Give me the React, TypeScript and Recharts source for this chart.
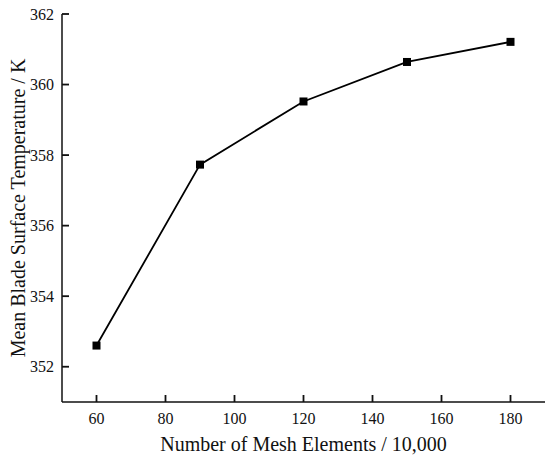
import { Line, LineChart, XAxis, YAxis } from "recharts";

// Mesh independence check: mean blade surface temperature vs element count.
const meshElements = [60, 90, 120, 150, 180];
const meanTemperature = [352.6, 357.73, 359.52, 360.64, 361.21];
const xTicks = [60, 80, 100, 120, 140, 160, 180];
const yTicks = [352, 354, 356, 358, 360, 362];

const data = meshElements.map((m, i) => ({ mesh: m, temp: meanTemperature[i] }));

const FONT = '"Liberation Serif", "Times New Roman", serif';
const INK = "#111";
const TICK_LEN = 7;
const X_MARGIN = 11;
const Y_MARGIN = 8;

type TickProps = { x?: number | string; y?: number | string; payload?: { value: number } };

// ticks in the reference point inwards, so draw them with the label
function renderXTick(props: TickProps) {
  const x = Number(props.x);
  const y = Number(props.y);
  const axisY = y - X_MARGIN;
  return (
    <g key={`x-${props.payload?.value}`}>
      <rect x={x - 0.9} y={axisY - TICK_LEN} width={1.8} height={TICK_LEN} fill={INK} />
      <text x={x} y={y} dy="0.71em" textAnchor="middle" fill={INK} fontSize={16} fontFamily={FONT}>
        {props.payload?.value}
      </text>
    </g>
  );
}

function renderYTick(props: TickProps) {
  const x = Number(props.x);
  const y = Number(props.y);
  const axisX = x + Y_MARGIN;
  return (
    <g key={`y-${props.payload?.value}`}>
      <rect x={axisX} y={y - 0.9} width={TICK_LEN} height={1.8} fill={INK} />
      <text x={x} y={y} dy="0.355em" textAnchor="end" fill={INK} fontSize={16} fontFamily={FONT}>
        {props.payload?.value}
      </text>
    </g>
  );
}

function SquareDot(props: { cx?: number; cy?: number; index?: number }) {
  const { cx, cy, index } = props;
  if (cx == null || cy == null) return null;
  const s = 8;
  return <rect key={index} x={cx - s / 2} y={cy - s / 2} width={s} height={s} fill="#000" />;
}

export default function App() {
  return (
    <div style={{ width: 550, height: 458, background: "#fff" }}>
      <style>{`body{margin:0}`}</style>
      <LineChart
        width={550}
        height={458}
        data={data}
        margin={{ top: 14, right: 5, left: 0, bottom: 0 }}
        style={{ fontFamily: FONT }}
      >
        <XAxis
          dataKey="mesh"
          type="number"
          domain={[50, 190]}
          ticks={xTicks}
          height={56}
          tickSize={0}
          tickMargin={X_MARGIN}
          axisLine={{ stroke: INK, strokeWidth: 1.5 }}
          tick={renderXTick}
          label={{
            value: "Number of Mesh Elements / 10,000",
            position: "insideBottom",
            offset: 7,
            style: { fill: INK, fontSize: 20 },
          }}
        />
        <YAxis
          type="number"
          domain={[351, 362]}
          ticks={yTicks}
          width={62}
          tickSize={0}
          tickMargin={Y_MARGIN}
          axisLine={{ stroke: INK, strokeWidth: 1.5 }}
          tick={renderYTick}
          label={{
            value: "Mean Blade Surface Temperature / K",
            angle: -90,
            position: "insideLeft",
            offset: 18,
            style: { fill: INK, fontSize: 20, textAnchor: "middle" },
          }}
        />
        <Line
          dataKey="temp"
          stroke="#000"
          strokeWidth={1.8}
          dot={<SquareDot />}
          activeDot={false}
          isAnimationActive={false}
        />
      </LineChart>
    </div>
  );
}
